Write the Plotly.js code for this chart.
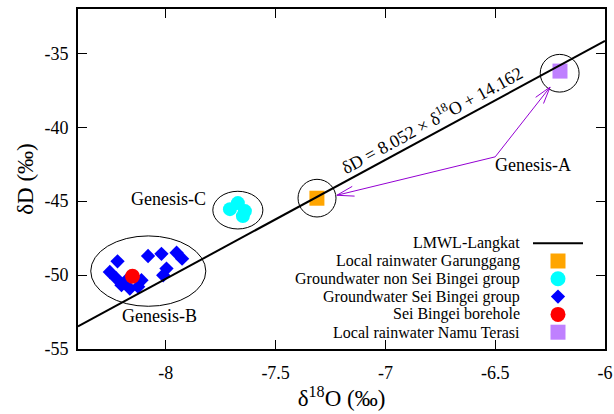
<!DOCTYPE html>
<html><head><meta charset="utf-8">
<script src="https://cdn.plot.ly/plotly-3.0.1.min.js"></script>
<style>html,body{margin:0;padding:0;background:#fff}#chart{width:614px;height:414px}</style>
</head><body><div id="chart"></div><script>
// ---- data ----
const xTickVals = [-8, -7.5, -7, -6.5, -6];
const xTickText = ['-8', '-7.5', '-7', '-6.5', '-6'];
const yTickVals = [-55, -50, -45, -40, -35];
const yTickText = ['-55', '-50', '-45', '-40', '-35'];

const lmwlX = [-8.4, -6.0];
const lmwlY = [-53.47, -34.15];

const garunggangX = [-7.312];
const garunggangY = [-44.8];

const nonSeiX = [-7.708, -7.672, -7.640, -7.649];
const nonSeiY = [-45.54, -45.13, -45.67, -46.01];

const seiX = [-8.220, -8.255, -8.081, -8.020, -7.951, -7.926, -7.997, -8.012, -8.202, -8.164, -8.126, -8.111, -8.179, -8.225];
const seiY = [-49.07, -49.79, -48.71, -48.56, -48.49, -48.89, -49.56, -50.01, -50.68, -50.91, -50.79, -50.35, -50.35, -50.23];

const boreholeX = [-8.152];
const boreholeY = [-50.08];

const namuX = [-6.205];
const namuY = [-36.2];

const seriesNames = ['LMWL-Langkat', 'Local rainwater Garunggang', 'Groundwater non Sei Bingei group',
  'Groundwater Sei Bingei group', 'Sei Bingei borehole', 'Local rainwater Namu Terasi'];

// ---- styling / layout ----
const FONT = '"Liberation Serif", "Times New Roman", serif';
const ORANGE = '#ffa500', CYAN = '#00ffff', BLUE = '#0000ff', RED = '#ff0000', VIOLET = '#bf80ff', ARROW = '#9400d3';
const W = 614, H = 414, ML = 78, MR = 9, MT = 9, MB = 65;
const PW = W - ML - MR, PH = H - MT - MB;
const XR = [-8.4, -6], YR = [-55, -32];
const pxX = PW / (XR[1] - XR[0]), pxY = PH / (YR[1] - YR[0]);

const traces = [
  {x: seiX, y: seiY, type: 'scatter', mode: 'markers', name: seriesNames[3],
   marker: {symbol: 'diamond', size: 11, color: BLUE}},
  {x: nonSeiX, y: nonSeiY, type: 'scatter', mode: 'markers', name: seriesNames[2],
   marker: {symbol: 'circle', size: 14, color: CYAN}},
  {x: boreholeX, y: boreholeY, type: 'scatter', mode: 'markers', name: seriesNames[4],
   marker: {symbol: 'circle', size: 15, color: RED}},
  {x: garunggangX, y: garunggangY, type: 'scatter', mode: 'markers', name: seriesNames[1],
   marker: {symbol: 'square', size: 15, color: ORANGE}},
  {x: namuX, y: namuY, type: 'scatter', mode: 'markers', name: seriesNames[5],
   marker: {symbol: 'square', size: 15, color: VIOLET}},
  {x: lmwlX, y: lmwlY, type: 'scatter', mode: 'lines', name: seriesNames[0],
   line: {color: '#000', width: 2}}
];

// custom gnuplot-style legend (text right, sample at right) on pixel overlay axes
const legX = 480, legTextX = 444, legTop = 234.2, legStep = 17.8;
const legRows = seriesNames.map((_, i) => legTop + i * legStep);
traces.push({x: [legX - 25, legX + 25], y: [legRows[0], legRows[0]], xaxis: 'x2', yaxis: 'y2',
  mode: 'lines', line: {color: '#000', width: 2}, hoverinfo: 'skip'});
const legSyms = [null, ['square', 15, ORANGE], ['circle', 15, CYAN], ['diamond', 11, BLUE], ['circle', 15, RED], ['square', 15, VIOLET]];
for (let i = 1; i < 6; i++) {
  traces.push({x: [legX], y: [legRows[i]], xaxis: 'x2', yaxis: 'y2', mode: 'markers',
    marker: {symbol: legSyms[i][0], size: legSyms[i][1], color: legSyms[i][2]}, hoverinfo: 'skip'});
}

const annotations = seriesNames.map((n, i) => ({
  xref: 'x2', yref: 'y2', x: legTextX, y: legRows[i], text: n, showarrow: false,
  xanchor: 'right', yanchor: 'middle', font: {family: FONT, size: 16, color: '#000'}
}));

annotations.push(
  {x: -6.327, y: -42.58, text: 'Genesis-A', showarrow: false, font: {family: FONT, size: 18, color: '#000'}},
  {x: -7.806, y: -44.87, text: 'Genesis-C', showarrow: false, xanchor: 'right', font: {family: FONT, size: 18, color: '#000'}},
  {x: -8.027, y: -52.75, text: 'Genesis-B', showarrow: false, font: {family: FONT, size: 18, color: '#000'}},
  {x: -6.789, y: -39.45, text: 'δD = 8.052 × δ<sup>18</sup>O + 14.162', showarrow: false, textangle: -28.7,
   font: {family: FONT, size: 18, color: '#000'}}
);

const shapes = [
  {type: 'circle', xref: 'x', yref: 'y', x0: -8.342, x1: -7.818, y0: -52.11, y1: -47.35, line: {color: '#000', width: 1}},
  {type: 'circle', xref: 'x', yref: 'y', x0: -7.786, x1: -7.558, y0: -46.88, y1: -44.33, line: {color: '#000', width: 1}},
  {type: 'circle', xref: 'x', yref: 'y', x0: -6.295, x1: -6.118, y0: -37.62, y1: -35.07, line: {color: '#000', width: 1}},
  {type: 'circle', xref: 'x', yref: 'y', x0: -7.398, x1: -7.225, y0: -46.07, y1: -43.52, line: {color: '#000', width: 1}}
];

// Genesis-A arrows: shaft plus open V head (computed in pixel space)
const arrowTail = [-6.50, -42.0];
const arrowTips = [[-6.250, -37.28], [-7.221, -44.60]];
arrowTips.forEach(t => {
  shapes.push({type: 'line', xref: 'x', yref: 'y', x0: arrowTail[0], y0: arrowTail[1], x1: t[0], y1: t[1],
    line: {color: ARROW, width: 1}});
  const dx = (arrowTail[0] - t[0]) * pxX, dy = (arrowTail[1] - t[1]) * pxY;
  const L = Math.hypot(dx, dy), ux = dx / L, uy = dy / L;
  const hl = 17, hw = 5;
  const b1 = [t[0] + (ux * hl - uy * hw) / pxX, t[1] + (uy * hl + ux * hw) / pxY];
  const b2 = [t[0] + (ux * hl + uy * hw) / pxX, t[1] + (uy * hl - ux * hw) / pxY];
  shapes.push({type: 'path', xref: 'x', yref: 'y',
    path: `M${b1[0]},${b1[1]} L${t[0]},${t[1]} L${b2[0]},${b2[1]}`, line: {color: ARROW, width: 1}});
});

const axisCommon = {
  showgrid: false, zeroline: false, showline: true, linecolor: '#000', linewidth: 2,
  ticks: 'inside', ticklen: 9, tickwidth: 1, tickcolor: '#000', mirror: 'ticks',
  tickfont: {family: FONT, size: 18, color: '#000'}
};

const layout = {
  width: W, height: H, margin: {l: ML, r: MR, t: MT, b: MB},
  paper_bgcolor: '#fff', plot_bgcolor: '#fff', showlegend: false,
  xaxis: Object.assign({}, axisCommon, {range: XR, tickvals: xTickVals, ticktext: xTickText,
    ticklabelstandoff: 6,
    title: {text: 'δ<sup>18</sup>O (‰)', font: {family: FONT, size: 23, color: '#000'}, standoff: 4}}),
  yaxis: Object.assign({}, axisCommon, {range: YR, tickvals: yTickVals, ticktext: yTickText,
    ticklabelstandoff: 4,
    title: {text: 'δD (‰)', font: {family: FONT, size: 23, color: '#000'}, standoff: 4}}),
  xaxis2: {overlaying: 'x', range: [0, PW], visible: false, fixedrange: true},
  yaxis2: {overlaying: 'y', range: [PH, 0], visible: false, fixedrange: true},
  annotations: annotations, shapes: shapes
};

Plotly.newPlot('chart', traces, layout, {displayModeBar: false, staticPlot: true});
</script></body></html>
